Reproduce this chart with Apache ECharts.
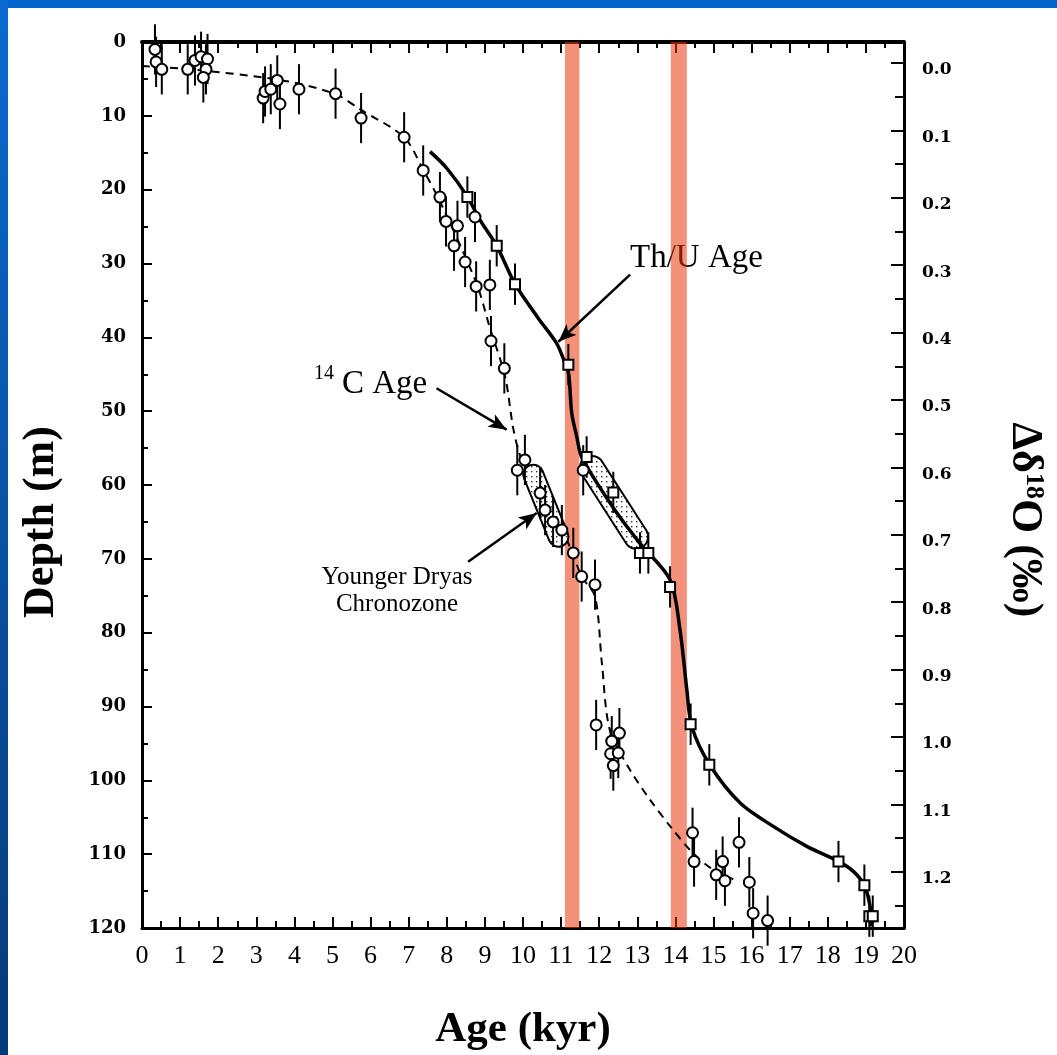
<!DOCTYPE html>
<html>
<head>
<meta charset="utf-8">
<script src="https://cdn.jsdelivr.net/npm/echarts@6/dist/echarts.min.js"></script>
<style>
  html, body { margin: 0; padding: 0; background: #fff; }
  #chart { width: 1057px; height: 1055px; }
</style>
</head>
<body>
<div id="chart"></div>
<script>
// 14C ages (kyr) and depths (m), circles
const c14Age = [0.34, 0.37, 0.52, 1.2, 1.39, 1.55, 1.72, 1.68, 1.61, 3.18, 3.23, 3.38, 3.55, 3.62, 4.12, 5.08, 5.75, 6.88, 7.38,
  7.82, 7.98, 8.28, 8.19, 8.48, 8.77, 9.13, 8.74, 9.16, 9.51, 10.05, 9.85, 10.45, 10.58, 10.79, 11.02, 11.32, 11.54, 11.89, 11.58,
  11.92, 12.33, 12.53, 12.3, 12.5, 12.37, 14.45, 14.49, 15.07, 15.24, 15.3, 15.67, 15.94, 16.04, 16.42];
const c14Depth = [1.0, 2.7, 3.7, 3.7, 2.5, 2.0, 2.3, 3.7, 4.8, 7.6, 6.7, 6.4, 5.2, 8.4, 6.4, 7.0, 10.3, 12.9, 17.4,
  21.0, 24.3, 24.9, 27.6, 29.8, 33.1, 32.9, 23.7, 40.5, 44.2, 56.6, 58.0, 61.1, 63.4, 65.0, 66.1, 69.2, 72.4, 73.5, 58.0,
  92.5, 94.7, 93.6, 96.4, 96.3, 98.0, 107.1, 111.0, 112.8, 111.0, 113.6, 108.4, 113.8, 118.0, 119.0];
const c14Err = 3.4;

// Th/U ages (kyr) and depths (m), squares
const thuAge = [8.54, 9.31, 9.79, 11.19, 11.67, 12.37, 13.07, 13.29, 13.86, 14.4, 14.89, 18.28, 18.96, 19.09, 19.18];
const thuDepth = [21.0, 27.6, 32.8, 43.7, 56.2, 61.0, 69.2, 69.2, 73.8, 92.4, 97.9, 111.0, 114.2, 118.4, 118.4];
const thuErr = 2.8;

// fitted curves
const c14CurveAge = [0, 1.18, 3.62, 5.07, 5.75, 6.88, 7.38, 7.82, 8.78, 9.13, 9.53, 9.75, 9.97, 10.5, 11.02, 11.3, 11.54,
  11.89, 12.07, 12.28, 12.81, 13.33, 13.86, 14.46, 14.99, 15.52];
const c14CurveDepth = [3.25, 3.66, 5.14, 7.04, 9.2, 12.9, 17.3, 21.6, 32.7, 38.7, 45.3, 52.5, 56.6, 61.5, 66.1, 69.2, 72.4,
  75.1, 84.1, 93.2, 98.6, 102.6, 106.2, 109.85, 112.1, 113.4];
const thuCurveAge = [7.56, 8.0, 8.54, 8.87, 9.31, 9.79, 10.4, 10.88, 11.1, 11.2, 11.28, 11.41, 11.54, 12.36, 13.07, 13.86,
  14.12, 14.3, 14.43, 14.9, 15.7, 16.57, 17.45, 18.28, 18.67, 18.96, 19.11, 19.15];
const thuCurveDepth = [14.85, 17.1, 20.95, 24.1, 27.62, 32.76, 37.4, 40.79, 43.46, 45.0, 50.3, 53.4, 56.2, 63.0, 67.9, 72.84,
  79.61, 87.73, 92.7, 97.89, 103.07, 106.24, 108.95, 110.98, 112.33, 114.23, 117.07, 119.78];

// Younger Dryas chronozone pills (centre line ends)
const ydC14Age = [10.27, 10.93];
const ydC14Depth = [58.6, 67.0];
const ydThuAge = [11.81, 12.97];
const ydThuDepth = [57.7, 67.0];

// highlighted bands (kyr)
const bandStart = [11.1, 13.88];
const bandEnd = [11.48, 14.3];

// axis ticks
const depthTicks = [0, 10, 20, 30, 40, 50, 60, 70, 80, 90, 100, 110, 120];
const d18oTicks = [0, 0.1, 0.2, 0.3, 0.4, 0.5, 0.6, 0.7, 0.8, 0.9, 1.0, 1.1, 1.2];
const d18oMinor = [0.05, 0.15, 0.25, 0.35, 0.45, 0.55, 0.65, 0.75, 0.85, 0.95, 1.05, 1.15, 1.25];

// annotation arrows [fromAge, fromDepth, toAge, toDepth]
const arrowThu = [12.81, 31.5, 10.93, 40.6];
const arrowC14 = [7.73, 46.9, 9.57, 52.5];
const arrowYD = [8.56, 70.4, 10.36, 63.8];

const zip = (a, b) => a.map((v, i) => [v, b[i]]);
const serif = '"Liberation Serif", "Times New Roman", serif';
const wide = '"DejaVu Serif", serif';

// stipple pattern for the chronozone pills
const dots = document.createElement('canvas');
dots.width = 5; dots.height = 5;
const dctx = dots.getContext('2d');
dctx.fillStyle = '#fff';
dctx.fillRect(0, 0, 5, 5);
dctx.fillStyle = '#333';
dctx.fillRect(1, 1, 1.4, 1.4);

const chart = echarts.init(document.getElementById('chart'));

function errBars(age, depth, err) {
  return {
    type: 'custom',
    xAxisIndex: 0, yAxisIndex: 0,
    data: age.map((a, i) => [a, depth[i], err]),
    renderItem: (params, api) => {
      const p1 = api.coord([api.value(0), api.value(1) - api.value(2)]);
      const p2 = api.coord([api.value(0), api.value(1) + api.value(2)]);
      return {
        type: 'line',
        shape: { x1: p1[0], y1: p1[1], x2: p2[0], y2: p2[1] },
        style: { stroke: '#000', lineWidth: 2 }
      };
    },
    z: 4,
    silent: true
  };
}

function pill(age, depth, outer, z) {
  const d = zip(age, depth);
  const base = { type: 'line', data: d, symbol: 'none', silent: true, z };
  return [
    { ...base, lineStyle: { color: '#000', width: outer, cap: 'round' } },
    { ...base, lineStyle: { color: { image: dots, repeat: 'repeat' }, width: outer - 4, cap: 'round' } }
  ];
}

function arrow(a) {
  return [{ coord: [a[0], a[1]], symbol: 'none' }, { coord: [a[2], a[3]], symbol: 'arrow' }];
}

const tickStyle = { color: '#000', width: 2 };
const d18oMin = -0.0312;
const d18oMax = 1.2834;

chart.setOption({
  animation: false,
  backgroundColor: '#fff',
  grid: { left: 142, right: 153, top: 42, bottom: 127, outerBoundsMode: 'none', containLabel: false },
  xAxis: [
    {
      type: 'value', position: 'bottom', min: 0, max: 20, interval: 1,
      name: 'Age (kyr)', nameLocation: 'middle', nameGap: 80,
      nameTextStyle: { fontFamily: serif, fontWeight: 'bold', fontSize: 43, color: '#000' },
      axisLine: { show: true, onZero: false, lineStyle: { color: '#000', width: 3 } },
      axisTick: { inside: true, length: 11, lineStyle: tickStyle },
      minorTick: { show: true, splitNumber: 2, length: 7, lineStyle: tickStyle },
      axisLabel: { fontFamily: serif, fontSize: 26, color: '#000', margin: 15 },
      splitLine: { show: false }
    },
    {
      type: 'value', position: 'top', min: 0, max: 20, interval: 1,
      axisLine: { show: true, onZero: false, lineStyle: { color: '#000', width: 4 } },
      axisTick: { inside: true, length: 11, lineStyle: tickStyle },
      minorTick: { show: true, splitNumber: 2, length: 6, lineStyle: tickStyle },
      axisLabel: { show: false },
      splitLine: { show: false }
    }
  ],
  yAxis: [
    {
      type: 'value', position: 'left', inverse: true, min: 0, max: 120, interval: 10,
      axisLine: { show: true, onZero: false, lineStyle: { color: '#000', width: 3 } },
      axisTick: { inside: true, length: 10, lineStyle: tickStyle },
      minorTick: { show: true, splitNumber: 2, length: 6, lineStyle: tickStyle },
      axisLabel: { fontFamily: wide, fontWeight: 'bold', fontSize: 18, color: '#000', margin: 16,
        customValues: depthTicks },
      splitLine: { show: false }
    },
    {
      type: 'value', position: 'right', inverse: true, min: d18oMin, max: d18oMax,
      axisLine: { show: true, onZero: false, lineStyle: { color: '#000', width: 3 } },
      axisTick: { inside: true, length: 13, customValues: d18oTicks, lineStyle: tickStyle },
      axisLabel: { fontFamily: wide, fontWeight: 'bold', fontSize: 17, color: '#000', margin: 18,
        customValues: d18oTicks, verticalAlign: 'top', lineHeight: 14,
        formatter: (v) => v.toFixed(1) },
      splitLine: { show: false }
    },
    {
      type: 'value', position: 'right', inverse: true, min: d18oMin, max: d18oMax,
      axisLine: { show: false, onZero: false },
      axisTick: { inside: true, length: 9, customValues: d18oMinor, lineStyle: tickStyle },
      axisLabel: { show: false },
      splitLine: { show: false }
    }
  ],
  graphic: [
    { type: 'rect', z: -10, shape: { x: 0, y: 0, width: 1057, height: 8 }, style: { fill: '#0066cc' } },
    { type: 'rect', z: -10, shape: { x: 0, y: 0, width: 8, height: 1055 },
      style: { fill: new echarts.graphic.LinearGradient(0, 0, 0, 1, [
        { offset: 0, color: '#0a6ad0' }, { offset: 1, color: '#073a78' }]) } },
    { type: 'text', z: 1, x: 42, y: 522, rotation: Math.PI / 2,
      style: { text: 'Depth (m)', font: 'bold 44px ' + serif, fill: '#000', align: 'center', verticalAlign: 'middle' } },
    { type: 'text', z: 1, x: 1024, y: 520, rotation: -Math.PI / 2,
      style: {
        text: '{a|Δδ}{s|18}{a|O (‰)}', align: 'center', verticalAlign: 'middle',
        rich: {
          a: { font: 'bold 44px ' + serif, fill: '#000', lineHeight: 46 },
          s: { font: 'bold 26px ' + serif, fill: '#000', verticalAlign: 'top', lineHeight: 46 }
        }
      } },
    { type: 'text', z: 1, x: 630, y: 258,
      style: { text: 'Th/U Age', font: '33px ' + serif, fill: '#000', verticalAlign: 'middle' } },
    { type: 'text', z: 1, x: 314, y: 374,
      style: { text: '14', font: '20px ' + serif, fill: '#000', verticalAlign: 'middle' } },
    { type: 'text', z: 1, x: 342, y: 384,
      style: { text: 'C Age', font: '33px ' + serif, fill: '#000', verticalAlign: 'middle' } },
    { type: 'text', z: 1, x: 397, y: 577,
      style: { text: 'Younger Dryas', font: '25px ' + serif, fill: '#000', align: 'center', verticalAlign: 'middle' } },
    { type: 'text', z: 1, x: 397, y: 604,
      style: { text: 'Chronozone', font: '25px ' + serif, fill: '#000', align: 'center', verticalAlign: 'middle' } }
  ],
  series: [
    ...pill(ydThuAge, ydThuDepth, 26, 1),
    {
      name: '14C curve', type: 'line', data: zip(c14CurveAge, c14CurveDepth),
      smooth: 0.3, symbol: 'none', z: 2, silent: true,
      lineStyle: { color: '#000', width: 2, type: [8, 6] }
    },
    ...pill(ydC14Age, ydC14Depth, 22, 2.5),
    {
      name: 'Th/U curve', type: 'line', data: zip(thuCurveAge, thuCurveDepth),
      smooth: 0.3, symbol: 'none', z: 3, silent: true,
      lineStyle: { color: '#000', width: 3.5 },
      markLine: {
        silent: true, symbolSize: [11, 18],
        label: { show: false },
        lineStyle: { color: '#000', width: 2.5, type: 'solid' },
        data: [arrow(arrowThu), arrow(arrowC14), arrow(arrowYD)]
      }
    },
    errBars(c14Age, c14Depth, c14Err),
    errBars(thuAge, thuDepth, thuErr),
    {
      name: '14C Age', type: 'scatter', data: zip(c14Age, c14Depth), z: 5,
      symbol: 'circle', symbolSize: 11,
      itemStyle: { color: '#fff', borderColor: '#000', borderWidth: 2, opacity: 1 }
    },
    {
      name: 'Th/U Age', type: 'scatter', data: zip(thuAge, thuDepth), z: 5,
      symbol: 'rect', symbolSize: 10,
      itemStyle: { color: '#fff', borderColor: '#000', borderWidth: 2, opacity: 1 }
    },
    {
      name: 'bands', type: 'line', data: [], z: 20, silent: true,
      markArea: {
        silent: true,
        itemStyle: { color: 'rgba(235,55,15,0.55)' },
        data: bandStart.map((s, i) => [{ xAxis: s }, { xAxis: bandEnd[i] }])
      }
    }
  ]
});
</script>
</body>
</html>
